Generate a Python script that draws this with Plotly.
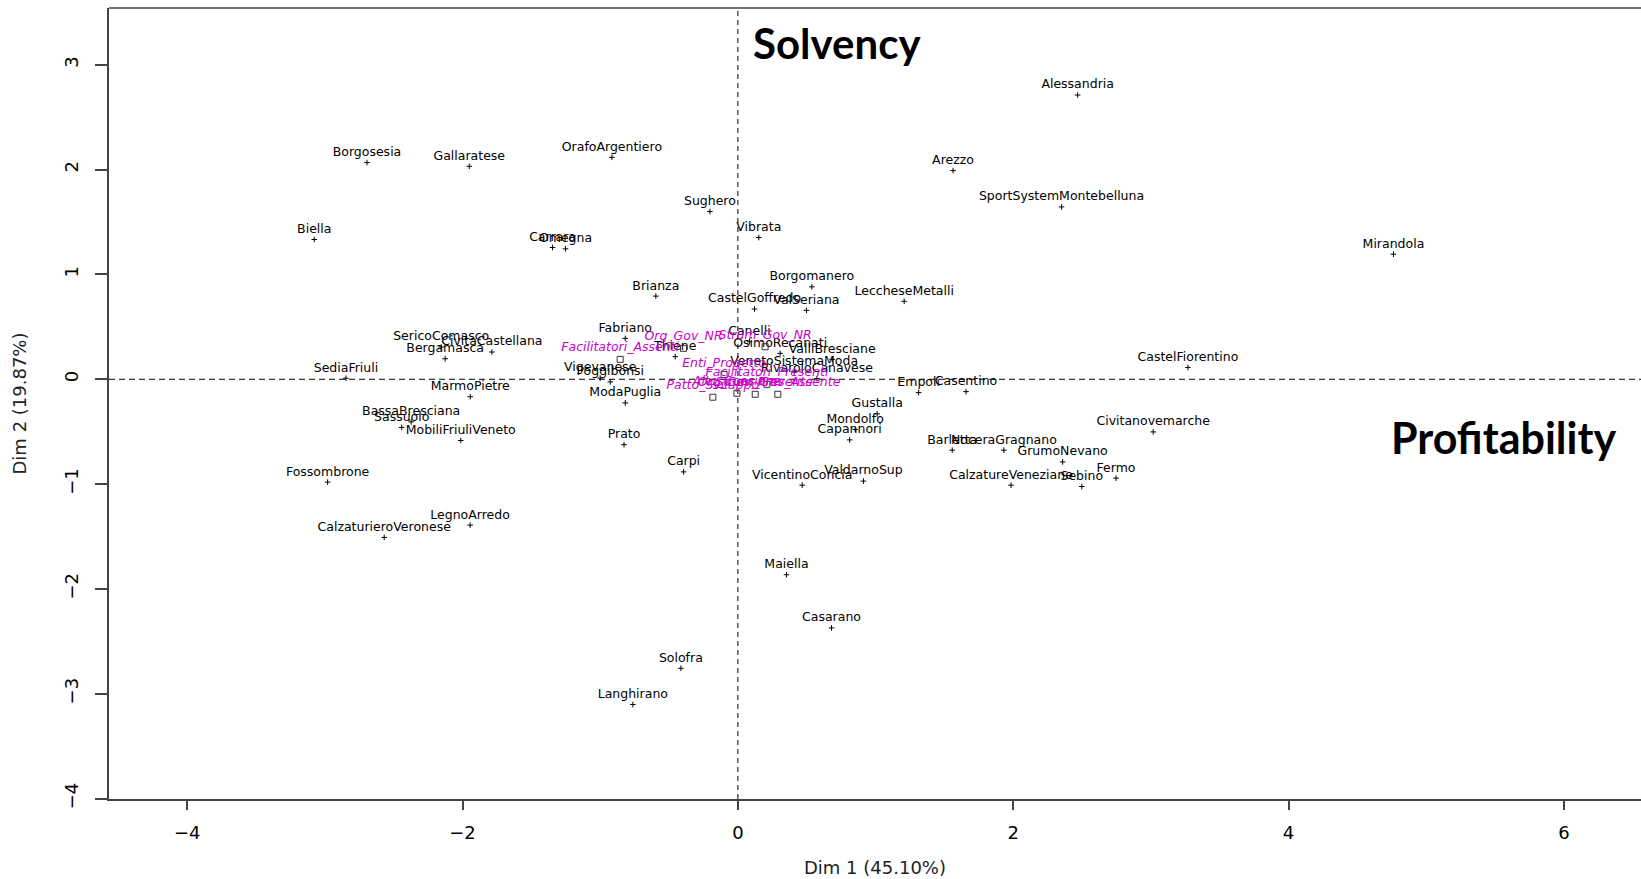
import plotly.graph_objects as go

# Industrial districts: coordinates on the first two factorial dimensions
districts = [
    "Borgosesia", "Gallaratese", "OrafoArgentiero", "Alessandria", "Arezzo",
    "SportSystemMontebelluna", "Sughero", "Biella", "Vibrata", "Carrara",
    "Omegna", "Mirandola", "Borgomanero", "Brianza", "LeccheseMetalli",
    "CastelGoffredo", "ValSeriana", "Fabriano", "SericoComasco", "Bergamasca",
    "CivitaCastellana", "Thiene", "Canelli", "OsimoRecanati", "ValliBresciane",
    "CastelFiorentino", "VenetoSistemaModa", "RivaroloCanavese", "SediaFriuli",
    "Vigevanese", "Poggibonsi", "Empoli", "Casentino", "MarmoPietre",
    "ModaPuglia", "Gustalla", "BassaBresciana", "Sassuolo", "Mondolfo",
    "Civitanovemarche", "MobiliFriuliVeneto", "Capannori", "Prato", "Barletta",
    "NoceraGragnano", "GrumoNevano", "Carpi", "Fermo", "ValdarnoSup",
    "Fossombrone", "VicentinoConcia", "CalzatureVeneziane", "Sebino",
    "LegnoArredo", "CalzaturieroVeronese", "Maiella", "Casarano", "Solofra",
    "Langhirano",
]
dim1 = [
    -2.694, -1.951, -0.915, 2.468, 1.563,
    2.351, -0.203, -3.077, 0.152, -1.346,
    -1.252, 4.762, 0.537, -0.596, 1.208,
    0.121, 0.498, -0.818, -2.155, -2.126,
    -1.787, -0.455, 0.084, 0.307, 0.685,
    3.269, 0.409, 0.574, -2.847,
    -1.000, -0.927, 1.313, 1.657, -1.944,
    -0.818, 1.012, -2.373, -2.442, 0.852,
    3.017, -2.013, 0.812, -0.827, 1.557,
    1.932, 2.359, -0.394, 2.747, 0.912,
    -2.980, 0.467, 1.984, 2.498,
    -1.945, -2.569, 0.353, 0.680, -0.414,
    -0.763,
]
dim2 = [
    2.067, 2.031, 2.117, 2.711, 1.990,
    1.644, 1.600, 1.333, 1.352, 1.257,
    1.244, 1.193, 0.882, 0.793, 0.744,
    0.670, 0.657, 0.390, 0.308, 0.196,
    0.260, 0.216, 0.358, 0.247, 0.190,
    0.113, 0.070, 0.006, 0.010,
    0.012, -0.025, -0.127, -0.118, -0.166,
    -0.225, -0.330, -0.406, -0.459, -0.478,
    -0.502, -0.584, -0.578, -0.624, -0.676,
    -0.676, -0.788, -0.883, -0.943, -0.971,
    -0.981, -1.010, -1.010, -1.023,
    -1.391, -1.508, -1.864, -2.371, -2.756,
    -3.102,
]

# Supplementary qualitative categories
categories = [
    "Org_Gov_NR", "Strum_Gov_NR", "Facilitatori_Assenti", "Facilitatori_Presenti",
    "Enti_Progetto", "Patto_Sviluppo", "Alto_Coesione", "Org_Gov_Presente",
    "Strum_Gov_Assente",
]
cat_dim1 = [-0.395, 0.198, -0.855, 0.211, -0.100, -0.182, -0.007, 0.126, 0.290]
cat_dim2 = [0.295, 0.310, 0.190, -0.048, 0.046, -0.171, -0.133, -0.143, -0.143]

x_ticks = [-4, -2, 0, 2, 4, 6]
y_ticks = [-4, -3, -2, -1, 0, 1, 2, 3]

AXIS_COLOR = "#444444"
LABEL_FONT = "DejaVu Sans"

fig = go.Figure()

fig.add_trace(go.Scatter(
    x=dim1, y=dim2, text=districts,
    mode="markers+text", textposition="top center",
    marker=dict(symbol="cross-thin", size=4, color="black",
                line=dict(width=1, color="black")),
    textfont=dict(family=LABEL_FONT, size=12.5, color="black"),
    hoverinfo="text", showlegend=False,
))

fig.add_trace(go.Scatter(
    x=cat_dim1, y=cat_dim2, text=categories,
    mode="markers+text", textposition="top center",
    marker=dict(symbol="square-open", size=6, color="#333333",
                line=dict(width=1, color="#333333")),
    textfont=dict(family=LABEL_FONT, size=12.5, color="#CC00CC", style="italic"),
    hoverinfo="text", showlegend=False,
))

shapes = [
    # dashed reference lines through the origin
    dict(type="line", xref="x", yref="paper", x0=0, x1=0, y0=0, y1=1,
         line=dict(color="black", width=1, dash="5px,4px"), layer="below"),
    dict(type="line", xref="paper", yref="y", x0=0, x1=1, y0=0, y1=0,
         line=dict(color="black", width=1, dash="6px,4px"), layer="below"),
    # top border of the plotting frame
    dict(type="line", xref="paper", yref="paper", x0=0, x1=1, y0=1, y1=1,
         line=dict(color=AXIS_COLOR, width=1.5)),
]

annotations = [
    dict(text="Dim 1 (45.10%)", xref="paper", yref="paper", x=0.5, y=-0.0872,
         xanchor="center", yanchor="middle", showarrow=False,
         font=dict(family=LABEL_FONT, size=18, color="#222222")),
    dict(text="Dim 2 (19.87%)", xref="paper", yref="paper", x=-0.0581, y=0.5,
         xanchor="center", yanchor="middle", textangle=-90, showarrow=False,
         font=dict(family=LABEL_FONT, size=18, color="#222222")),
    dict(text="<b>Solvency</b>", xref="paper", yref="paper", x=0.475, y=0.956,
         xanchor="center", yanchor="middle", showarrow=False,
         font=dict(family="Lato", size=42, color="black")),
    dict(text="<b>Profitability</b>", xref="paper", yref="paper", x=0.910, y=0.457,
         xanchor="center", yanchor="middle", showarrow=False,
         font=dict(family="Lato", size=43, color="black")),
]

fig.update_layout(
    width=1641, height=879,
    margin=dict(l=109, r=0, t=8, b=80),
    plot_bgcolor="white", paper_bgcolor="white",
    shapes=shapes, annotations=annotations,
    xaxis=dict(
        range=[-4.568, 6.56], tickvals=x_ticks, ticks="outside", ticklen=9,
        tickwidth=1.5, tickcolor=AXIS_COLOR, showline=True, linecolor=AXIS_COLOR,
        linewidth=1.5, showgrid=False, zeroline=False, ticklabelstandoff=8,
        tickfont=dict(family=LABEL_FONT, size=18, color="black"),
    ),
    yaxis=dict(
        range=[-4.003, 3.541], tickvals=y_ticks, ticks="outside", ticklen=12,
        tickwidth=1.5, tickcolor=AXIS_COLOR, showline=True, linecolor=AXIS_COLOR,
        linewidth=1.5, showgrid=False, zeroline=False, tickangle=-90,
        ticklabelstandoff=10,
        tickfont=dict(family=LABEL_FONT, size=18, color="black"),
    ),
)

fig.write_html("out.html")
